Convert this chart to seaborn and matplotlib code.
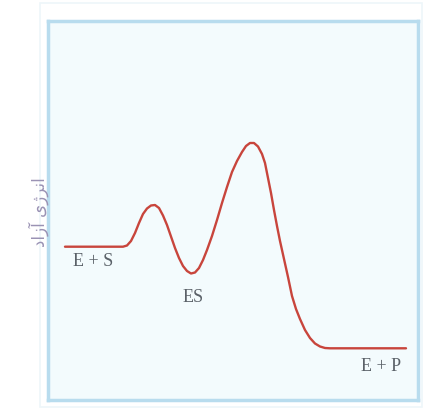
import numpy as np
import pandas as pd
import matplotlib
matplotlib.use("Agg")
import matplotlib.pyplot as plt
import seaborn as sns
from matplotlib.patches import Rectangle

# Reaction progress and free energy (arbitrary units)
progress = [65, 123, 127, 131, 135, 139, 143, 147, 151, 155, 159, 163, 167, 171,
            175, 179, 183, 187, 191, 195, 199, 203, 207, 212, 217, 222, 227, 232,
            237, 242, 246, 250, 254, 258, 262, 265, 268, 271, 274, 277, 280, 284,
            288, 292, 296, 300, 305, 310, 315, 320, 325, 330, 406]
energy = [153.3, 153.3, 154.5, 159, 167, 177, 186, 191.5, 194.5, 195, 192, 184.5,
          175, 163.5, 152, 142, 134, 129, 126.5, 127.5, 132, 140, 150, 164, 180,
          197, 213, 228, 239, 248, 254, 257, 257, 253.5, 246, 237, 222, 207, 190,
          174, 159, 141, 123, 104, 91, 81, 70, 62, 56.5, 53.5, 52, 51.7, 51.7]

state_labels = ["E + S", "ES", "E + P"]
state_x = [93, 193, 381]
state_y = [138, 103, 34]

ylabel_text = "\uFEA9\uFE8D\uFEAF\uFE81 \uFBFC\uFB8A\uFEAE\uFEE7\uFE8D"  # انرژی آزاد

sns.set_theme(style="white")
plt.rcParams['font.family'] = ['DejaVu Sans']

df = pd.DataFrame({"progress": progress, "energy": energy})

fig = plt.figure(figsize=(4.24, 4.11), dpi=100)
fig.patch.set_facecolor("white")
ax = fig.add_axes([48/424, 11/411, 370/424, 379/411])
ax.set_facecolor("#f3fbfd")

sns.lineplot(data=df, x="progress", y="energy", ax=ax, color="#c8453c",
             linewidth=1.7, sort=False, estimator=None,
             solid_joinstyle="round", solid_capstyle="round")

ax.set_xlim(48, 418)
ax.set_ylim(0, 379)
ax.set_xticks([])
ax.set_yticks([])
ax.set_xlabel("")
ax.set_ylabel("")
for s in ax.spines.values():
    s.set_color("#b8dcee")
    s.set_linewidth(2.5)

for lab, x, y in zip(state_labels, state_x, state_y):
    ax.text(x, y, lab, ha="center", va="center", fontsize=13,
            family="Liberation Serif", color="#5a6168")

fig.text(39/424, 1 - 212/411, ylabel_text, rotation=90, ha="center", va="center",
         fontsize=12, color="#9a92b4", family=["DejaVu Sans"])

# faint outer frame
fig.patches.append(Rectangle((40/424, 4/411), 382/424, 404/411, transform=fig.transFigure,
                             fill=False, edgecolor="#eef6f9", linewidth=1.2))

fig.savefig("out.png", dpi=100)
